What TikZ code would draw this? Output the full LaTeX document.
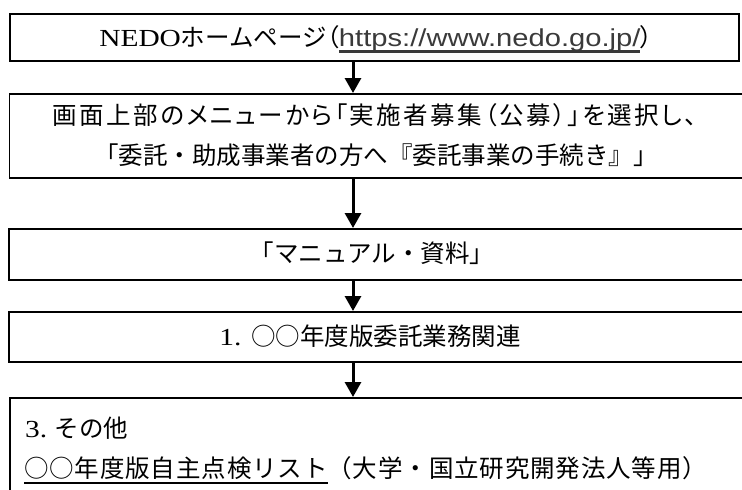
\documentclass[tikz,border=0pt]{standalone}
\usepackage{fontspec}
\setmainfont{Liberation Serif}[FakeStretch=1.2]
\newfontfamily\jp{Noto Sans CJK JP}
\newfontfamily\jpp{Noto Sans CJK JP}[RawFeature=+palt,LetterSpace=10]
\newfontfamily\jpq{Noto Sans CJK JP}[RawFeature=+palt]
\newfontfamily\jpw{Noto Sans CJK JP}[LetterSpace=3.5]
\newfontfamily\sanslat{Liberation Sans}[FakeStretch=1.19]
\usetikzlibrary{arrows.meta}
\definecolor{urlgray}{HTML}{3A3A3A}
\newcommand\ulline[3]{\setbox0\hbox{#1}\rlap{\color{#3}\rule[-6.5pt]{\wd0}{#2}}\box0}
\begin{document}
\begin{tikzpicture}[x=1pt,y=-1pt,
  box/.style={draw=black,line width=1.8pt,rectangle},
  arr/.style={-{Triangle[width=16pt,length=15pt]},line width=3pt},
  txt/.style={font=\fontsize{24.5}{40}\selectfont\jp,text=black,inner sep=0pt,anchor=base}]
\useasboundingbox (0,0) rectangle (742,490);
\clip (0,0) rectangle (742,490);
% boxes
\node[box,minimum width=729pt,minimum height=47pt,anchor=north west] (b1) at (9,13) {};
\node[box,minimum width=760pt,minimum height=84pt,anchor=north west] (b2) at (8.5,93) {};
\node[box,minimum width=760pt,minimum height=51pt,anchor=north west] (b3) at (8,228) {};
\node[box,minimum width=760pt,minimum height=50pt,anchor=north west] (b4) at (8,311) {};
\node[box,minimum width=760pt,minimum height=140pt,anchor=north west] (b5) at (9,397) {};
% arrows
\coordinate (ax) at (353,0);
\draw[arr] (b1.south -| ax) -- (b2.north -| ax);
\draw[arr] (b2.south -| ax) -- (b3.north -| ax);
\draw[arr] (b3.south -| ax) -- (b4.north -| ax);
\draw[arr] (b4.south -| ax) -- (b5.north -| ax);
% texts
\node[txt] (t1) at (376,46) {{\rmfamily NEDO}ホームページ{\jpq （}{\sanslat\color{urlgray}\ulline{https://www.nedo.go.jp/}{2.5pt}{urlgray}}{\jpq ）}};
\node[txt] (t2a) at (375,124) {\jpp 画面上部のメニューから「実施者募集（公募）」を選択し、};
\node[txt] (t2b) at (376,164) {「委託・助成事業者の方へ『委託事業の手続き』」};
\node[txt] (t3) at (372,262) {「マニュアル・資料」};
\node[txt] (t4) at (370,345) {{\rmfamily 1.}\hspace{0.4em}○○年度版委託業務関連};
\node[txt,anchor=base west] (t5a) at (25,437) {{\rmfamily 3.}\hspace{0.3em}その他};
\node[txt,anchor=base west] (t5b) at (24,477) {\jpw\ulline{○○年度版自主点検リスト}{1.8pt}{black}（大学・国立研究開発法人等用）};
\end{tikzpicture}
\end{document}
